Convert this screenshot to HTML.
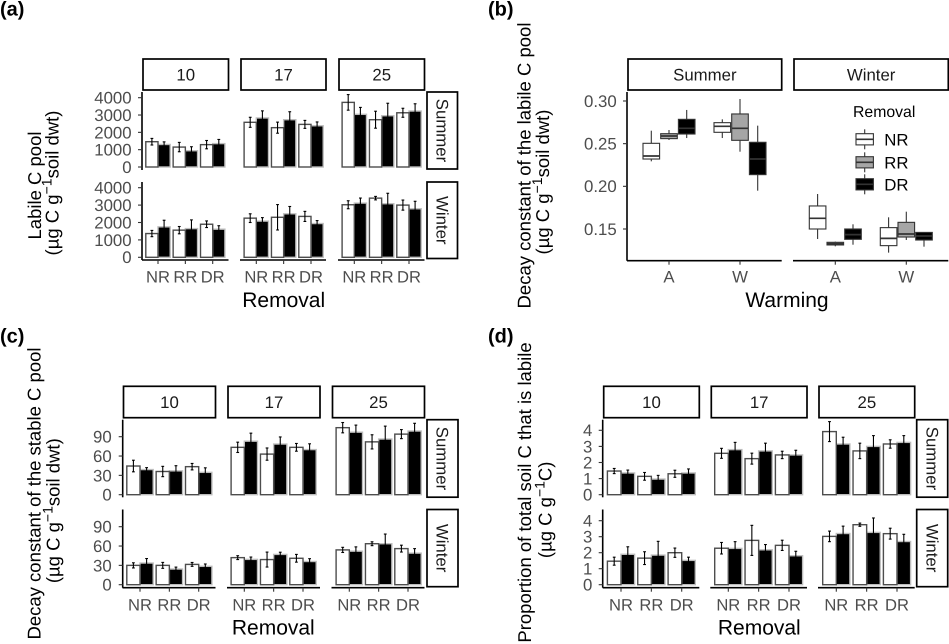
<!DOCTYPE html>
<html>
<head>
<meta charset="utf-8">
<title>Soil carbon pools by removal, warming and season</title>
<style>
html,body{margin:0;padding:0;background:#fff;width:949px;height:644px;overflow:hidden}
svg{display:block;font-family:"Liberation Sans",sans-serif;text-rendering:geometricPrecision;filter:blur(0.35px)}
</style>
</head>
<body>
<svg id="figure" xmlns="http://www.w3.org/2000/svg" width="949" height="644" viewBox="0 0 949 644">
  <rect width="949" height="644" fill="#fff"/>
  <g font-weight="bold" font-size="20" fill="#000">
    <text x="0" y="15.5">(a)</text>
    <text x="488" y="15.5">(b)</text>
    <text x="0" y="342.5">(c)</text>
    <text x="488" y="342.5">(d)</text>
  </g>
  <g font-size="18.5" fill="#000" text-anchor="middle">
    <text transform="translate(41,185.5) rotate(-90)">Labile C pool</text>
    <text transform="translate(58.5,183) rotate(-90)">(µg C g<tspan font-size="14" dy="-7">−1</tspan><tspan dy="7">soil dwt)</tspan></text>
    <text transform="translate(530.7,165.5) rotate(-90)">Decay constant of the labile C pool</text>
    <text transform="translate(549,182) rotate(-90)">(µg C g<tspan font-size="14" dy="-7">−1</tspan><tspan dy="7">soil dwt)</tspan></text>
    <text transform="translate(40.7,493.5) rotate(-90)">Decay constant of the stable C pool</text>
    <text transform="translate(59.3,510.7) rotate(-90)">(µg C g<tspan font-size="14" dy="-7">−1</tspan><tspan dy="7">soil dwt)</tspan></text>
    <text transform="translate(531,492.5) rotate(-90)">Proportion of total soil C that is labile</text>
    <text transform="translate(551.5,509.8) rotate(-90)">(µg C g<tspan font-size="14" dy="-7">−1</tspan><tspan dy="7">C)</tspan></text>
  </g>
  <g font-size="21" fill="#000" text-anchor="middle">
    <text x="283.7" y="307">Removal</text>
    <text x="787" y="307">Warming</text>
    <text x="273.3" y="634.7">Removal</text>
    <text x="759.3" y="634.7">Removal</text>
  </g>
</svg>
<script>
// Shared categories
var temperatures = ['10', '17', '25'];
var removals = ['NR', 'RR', 'DR'];
var seasons = ['Summer', 'Winter'];
var warmings = ['A', 'W'];

// Panel (a): values run temperature > removal > white, black
var aSummerValues = [1460,1300,1150,940,1290,1350, 2580,2830,2270,2730,2460,2380, 3730,3040,2730,2960,3130,3230];
var aSummerErrors = [190,150,270,230,240,240, 290,410,320,460,230,220, 450,400,490,720,260,420];
var aWinterValues = [1365,1750,1560,1650,1900,1615, 2250,2080,2300,2500,2350,1940, 3020,3115,3400,3080,3000,2790];
var aWinterErrors = [180,380,210,500,190,200, 250,200,730,420,290,170, 230,290,100,600,290,430];
var aTicks = [0, 1000, 2000, 3000, 4000];

// Panel (c)
var cSummerValues = [44.5,39,36,37,43.5,34.7, 73.5,83,63,78.6,73.5,70, 104,97,82,86.4,94,98.8];
var cSummerErrors = [9,3,8,8,5,7, 8,12.5,9.5,11,6,9, 8,11,11,20,7,12];
var cWinterValues = [30,33.6,30,24.3,31.5,28.5, 42,39.3,39,47,41,36, 54,52,63.6,63.6,56,49];
var cWinterErrors = [4,7,4.6,3,3,3.6, 3,3.6,11.6,3.4,6,4.4, 4,6.7,3,15,5.3,7];
var cTicks = [0, 30, 60, 90];

// Panel (d)
var dSummerValues = [1.47,1.35,1.14,0.97,1.3,1.35, 2.57,2.8,2.24,2.72,2.47,2.47, 3.92,3.15,2.72,3,3.15,3.25];
var dSummerErrors = [0.16,0.18,0.24,0.23,0.22,0.25, 0.31,0.45,0.34,0.48,0.23,0.29, 0.62,0.42,0.48,0.67,0.26,0.42];
var dWinterValues = [1.47,1.9,1.66,1.85,2,1.52, 2.28,2.27,2.77,2.18,2.46,1.81, 3.02,3.2,3.75,3.27,3.19,2.7];
var dWinterErrors = [0.25,0.47,0.4,0.86,0.29,0.2, 0.36,0.42,0.94,0.33,0.32,0.28, 0.33,0.46,0.1,0.9,0.34,0.45];
var dTicks = [0, 1, 2, 3, 4];

// Panel (b): one array per box statistic, season > warming > removal
var bWhiskerHigh = [0.2652,0.266,0.2895, 0.2785,0.3023,0.2711, 0.191,0.1352,0.1555, 0.1637,0.1703,0.146];
var bUpperQuartile = [0.2504,0.2617,0.2785, 0.2746,0.2848,0.2516, 0.177,0.1344,0.15, 0.1516,0.1578,0.146];
var bMedian = [0.2355,0.259,0.268, 0.2703,0.268,0.232, 0.1625,0.1328,0.1434, 0.139,0.1441,0.1418];
var bLowerQuartile = [0.232,0.2559,0.2613, 0.2633,0.2539,0.2137, 0.15,0.1313,0.1379, 0.1305,0.1406,0.1371];
var bWhiskerLow = [0.2293,0.2543,0.2566, 0.2566,0.2406,0.1949, 0.1383,0.1297,0.1316, 0.1223,0.1371,0.1293];
var bTicks = [0.15, 0.20, 0.25, 0.30];
var bTickLabels = ['0.15', '0.20', '0.25', '0.30'];

var svg = document.getElementById('figure');
var NS = 'http://www.w3.org/2000/svg';
var TICK_GREY = '#4d4d4d';
var BOX_FILLS = ['#ffffff', '#a6a6a6', '#000000'];

function node(tag, props, parent) {
  var el = document.createElementNS(NS, tag);
  for (var k in props) { el.setAttribute(k, props[k]); }
  parent.appendChild(el);
  return el;
}
function seg(x1, y1, x2, y2, stroke, width, parent) {
  return node('line', {x1: x1, y1: y1, x2: x2, y2: y2, stroke: stroke, 'stroke-width': width}, parent);
}
function label(str, x, y, size, anchor, fill, parent) {
  var el = node('text', {x: x, y: y, 'font-size': size, 'text-anchor': anchor, fill: fill}, parent);
  el.textContent = str;
  return el;
}
function linearY(base, tickValue, tickPixel) {
  var k = (base - tickPixel) / tickValue;
  return function (v) { return base - v * k; };
}
function stripBox(x1, y1, x2, y2, text, rotated, name, parent) {
  var g = node('g', {}, parent);
  
  
  node('rect', {x: x1, y: y1, width: x2 - x1, height: y2 - y1, fill: '#fff', stroke: '#000', 'stroke-width': 1.7}, g);
  var cx = (x1 + x2) / 2;
  var cy = (y1 + y2) / 2;
  var t = rotated
    ? node('text', {transform: 'translate(' + (cx + 0) + ',' + cy + ') rotate(90)', y: 5.8, 'font-size': 16.8, 'text-anchor': 'middle', fill: '#1a1a1a'}, g)
    : node('text', {x: cx, y: cy + 5.8, 'font-size': 16.8, 'text-anchor': 'middle', fill: '#1a1a1a'}, g);
  t.textContent = text;
}

function drawBarFacet(id, layout) {
  var root = node('g', {}, svg);
  
  

  temperatures.forEach(function (temp, t) {
    stripBox(layout.stripX[t][0], layout.stripTop, layout.stripX[t][1], layout.stripBottom, temp, false, 'strip-' + id + '-' + temp, root);
  });

  layout.rows.forEach(function (row, r) {
    var y = linearY(row.base, layout.topTick, row.topPixel);
    stripBox(layout.sideX[0], row.top, layout.sideX[1], row.bottom, seasons[r], true, 'strip-' + id + '-' + seasons[r].toLowerCase(), root);

    temperatures.forEach(function (temp, t) {
      var g = node('g', {}, root);
      
      
      removals.forEach(function (rem, m) {
        var centre = layout.firstTick[t] + m * layout.step;
        [1, 0].forEach(function (shade) {
          var idx = t * 6 + m * 2 + shade;
          var v = row.values[idx];
          var x0 = centre - layout.barWidth + shade * layout.barWidth;
          var bar = node('rect', {
            x: x0, y: y(v), width: layout.barWidth, height: row.base - y(v),
            fill: shade ? '#000' : '#fff',
            stroke: shade ? '#bdbdbd' : '#4d4d4d',
            'stroke-width': 1.4
          }, g);
          
          
        });
      });
      removals.forEach(function (rem, m) {
        var centre = layout.firstTick[t] + m * layout.step;
        [0, 1].forEach(function (shade) {
          var idx = t * 6 + m * 2 + shade;
          var v = row.values[idx];
          var e = row.errors[idx];
          var cx = centre - layout.barWidth / 2 + shade * layout.barWidth;
          var err = node('g', {}, g);
          
          
          seg(cx, y(v + e), cx, y(v - e), '#000', 1.1, err);
          seg(cx - 1.4, y(v + e), cx + 1.4, y(v + e), '#000', 1.1, err);
          seg(cx - 1.4, y(v - e), cx + 1.4, y(v - e), '#000', 1.1, err);
        });
      });
    });

    var yAxis = node('g', {}, root);
    
    
    seg(layout.axisX, row.top, layout.axisX, row.axisBottom, '#000', 1.6, yAxis);
    layout.ticks.forEach(function (tv) {
      seg(layout.axisX - 4, y(tv), layout.axisX, y(tv), '#333', 1.1, yAxis);
      label(String(tv), layout.axisX - layout.labelGap, y(tv) + 5.9, 16.8, 'end', TICK_GREY, yAxis);
    });
  });

  var lastRow = layout.rows[layout.rows.length - 1];
  temperatures.forEach(function (temp, t) {
    var xAxis = node('g', {}, root);
    
    
    seg(layout.stripX[t][0] - 1, lastRow.axisBottom, layout.stripX[t][1], lastRow.axisBottom, '#000', 1.6, xAxis);
    removals.forEach(function (rem, m) {
      var cx = layout.firstTick[t] + m * layout.step;
      seg(cx, lastRow.axisBottom, cx, lastRow.axisBottom + 4, '#333', 1.1, xAxis);
      label(rem, cx, layout.xLabelY, 16.6, 'middle', TICK_GREY, xAxis);
    });
  });
}

drawBarFacet('a', {
  stripX: [[143, 228.5], [241, 326], [339, 424.5]], stripTop: 59, stripBottom: 90,
  sideX: [427, 457.5], axisX: 142, labelGap: 10.4, firstTick: [158, 256.3, 354.3], step: 27.35, barWidth: 12.2,
  ticks: aTicks, topTick: 4000, xLabelY: 282.7,
  rows: [
    {top: 92, bottom: 169, axisBottom: 170, base: 167, topPixel: 97.7, values: aSummerValues, errors: aSummerErrors},
    {top: 182, bottom: 258.5, axisBottom: 260, base: 257.3, topPixel: 187.7, values: aWinterValues, errors: aWinterErrors}
  ]
});
drawBarFacet('c', {
  stripX: [[123.5, 215.5], [228, 320], [332.5, 424.5]], stripTop: 386.3, stripBottom: 417.7,
  sideX: [427, 458], axisX: 122.7, labelGap: 11, firstTick: [140, 244.3, 349.3], step: 29.35, barWidth: 13.2,
  ticks: cTicks, topTick: 90, xLabelY: 610.7,
  rows: [
    {top: 419.7, bottom: 497.2, axisBottom: 497.3, base: 494.7, topPixel: 436.7, values: cSummerValues, errors: cSummerErrors},
    {top: 509.5, bottom: 586.7, axisBottom: 587.7, base: 584.7, topPixel: 526.7, values: cWinterValues, errors: cWinterErrors}
  ]
});
drawBarFacet('d', {
  stripX: [[603.7, 699.3], [711.3, 807], [819, 914.7]], stripTop: 386.3, stripBottom: 417.7,
  sideX: [916.7, 947.7], axisX: 602.7, labelGap: 10.4, firstTick: [621, 728.3, 836.3], step: 30.35, barWidth: 13.6,
  ticks: dTicks, topTick: 4, xLabelY: 610.7,
  rows: [
    {top: 419.7, bottom: 497.2, axisBottom: 497.3, base: 494.7, topPixel: 430.3, values: dSummerValues, errors: dSummerErrors},
    {top: 509.5, bottom: 586.7, axisBottom: 587.7, base: 584.7, topPixel: 520.7, values: dWinterValues, errors: dWinterErrors}
  ]
});

// Panel (b) box plots
(function () {
  var root = node('g', {}, svg);
  
  
  var pxPerUnit = 42.67 / 0.05;
  var y = function (v) { return 229 - (v - 0.15) * pxPerUnit; };
  var stripX = [[628, 781.7], [794, 948.3]];
  var tickX = [[669, 740], [835.3, 906.3]];
  var dodge = 17.7;
  var boxW = 16.6;
  var axisBottom = 260.7;

  seasons.forEach(function (season, s) {
    stripBox(stripX[s][0], 59, stripX[s][1], 90, season, false, 'strip-b-' + season.toLowerCase(), root);
    var xAxis = node('g', {}, root);
    
    
    seg(stripX[s][0] - 1, axisBottom, stripX[s][1], axisBottom, '#000', 1.6, xAxis);
    warmings.forEach(function (w, wi) {
      seg(tickX[s][wi], axisBottom, tickX[s][wi], axisBottom + 4, '#333', 1.1, xAxis);
      label(w, tickX[s][wi], 282.7, 16.8, 'middle', TICK_GREY, xAxis);
      removals.forEach(function (rem, m) {
        var idx = s * 6 + wi * 3 + m;
        var cx = tickX[s][wi] + (m - 1) * dodge;
        var g = node('g', {}, root);
        
        
        seg(cx, y(bWhiskerHigh[idx]), cx, y(bWhiskerLow[idx]), '#333', 1.1, g);
        node('rect', {
          x: cx - boxW / 2, y: y(bUpperQuartile[idx]), width: boxW,
          height: y(bLowerQuartile[idx]) - y(bUpperQuartile[idx]),
          fill: BOX_FILLS[m], stroke: '#333', 'stroke-width': 1.1
        }, g);
        seg(cx - boxW / 2, y(bMedian[idx]), cx + boxW / 2, y(bMedian[idx]), '#333', 1.7, g);
      });
    });
  });

  var yAxis = node('g', {}, root);
  
  
  seg(627, 92, 627, axisBottom, '#000', 1.6, yAxis);
  bTicks.forEach(function (tv, i) {
    seg(623, y(tv), 627, y(tv), '#333', 1.1, yAxis);
    label(bTickLabels[i], 616.7, y(tv) + 5.9, 16.8, 'end', TICK_GREY, yAxis);
  });

  var legend = node('g', {}, root);
  
  
  var title = label('Removal', 853, 117, 15.8, 'start', '#000', legend);
  
  
  var legendY = [139.3, 162.3, 184.3];
  removals.forEach(function (rem, m) {
    var entry = node('g', {}, legend);
    
    
    var cy = legendY[m];
    seg(864.7, cy - 10, 864.7, cy + 10, '#333', 1.1, entry);
    node('rect', {x: 856, y: cy - 5.6, width: 17.4, height: 11.2, fill: BOX_FILLS[m], stroke: '#333', 'stroke-width': 1.1}, entry);
    seg(856, cy, 873.4, cy, '#333', 1.7, entry);
    label(rem, 884.3, cy + 6.2, 16.8, 'start', '#000', entry);
  });
})();
</script>
</body>
</html>
